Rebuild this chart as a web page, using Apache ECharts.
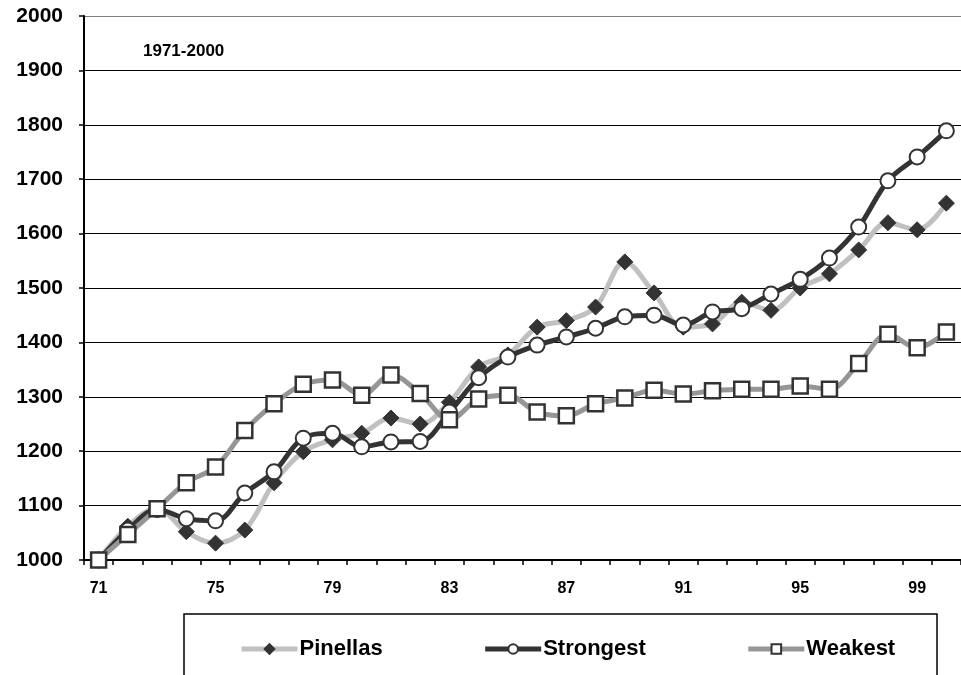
<!DOCTYPE html>
<html>
<head>
<meta charset="utf-8">
<script src="https://cdn.jsdelivr.net/npm/echarts@6/dist/echarts.min.js"></script>
<style>
  html, body { margin: 0; padding: 0; background: #fff; }
  #chart { width: 961px; height: 675px; }
</style>
</head>
<body>
<div id="chart"></div>
<script>
// 年份 (71 .. 00)
const years = ['71','72','73','74','75','76','77','78','79','80',
  '81','82','83','84','85','86','87','88','89','90',
  '91','92','93','94','95','96','97','98','99','00'];

const pinellas = [1000, 1062, 1095, 1052, 1031, 1055, 1142, 1199, 1221, 1233,
  1261, 1250, 1290, 1355, 1377, 1428, 1440, 1465, 1548, 1491,
  1428, 1434, 1474, 1459, 1500, 1526, 1570, 1620, 1607, 1656];

const strongest = [1000, 1055, 1093, 1076, 1072, 1123, 1162, 1224, 1233, 1208,
  1217, 1218, 1272, 1335, 1373, 1395, 1410, 1426, 1447, 1450,
  1432, 1456, 1462, 1489, 1516, 1555, 1612, 1697, 1741, 1789];

const weakest = [1000, 1047, 1094, 1142, 1171, 1238, 1287, 1323, 1331, 1303,
  1340, 1306, 1258, 1296, 1303, 1272, 1265, 1287, 1298, 1312,
  1305, 1311, 1314, 1314, 1320, 1314, 1361, 1415, 1390, 1419];

const font = '"Liberation Sans", Arial, sans-serif';

const chart = echarts.init(document.getElementById('chart'));

// 网格线颜色：最上面那条是灰色
const gridColors = ['#000','#000','#000','#000','#000','#000','#000','#000','#000','#000','#808080'];

chart.setOption({
  animation: false,
  backgroundColor: '#fff',
  grid: { left: 84, right: -14, top: 16, bottom: 115 },
  xAxis: {
    type: 'category',
    data: years,
    boundaryGap: true,
    axisLine: { lineStyle: { color: '#000', width: 2 } },
    axisTick: { show: true, interval: 0, length: 5, lineStyle: { color: '#000', width: 1.5 } },
    axisLabel: {
      interval: 3,
      color: '#000',
      fontFamily: font,
      fontWeight: 'bold',
      fontSize: 16,
      margin: 21
    },
    splitLine: { show: false }
  },
  yAxis: {
    type: 'value',
    min: 1000,
    max: 2000,
    interval: 100,
    axisLine: { show: true, lineStyle: { color: '#000', width: 2 } },
    axisTick: { show: true, length: 5, lineStyle: { color: '#000', width: 1.5 } },
    axisLabel: {
      color: '#000',
      fontFamily: font,
      fontWeight: 'bold',
      fontSize: 21,
      margin: 21,
      formatter: (v) => String(v)
    },
    splitLine: { show: true, lineStyle: { color: gridColors, width: 1.2 } }
  },
  legend: {
    left: 234,
    top: 633,
    itemWidth: 56,
    itemHeight: 12,
    itemGap: 100,
    lineStyle: { width: 5 },
    textStyle: { color: '#000', fontFamily: font, fontWeight: 'bold', fontSize: 22, padding: [0, 0, 0, -3] },
    data: ['Pinellas', 'Strongest', 'Weakest']
  },
  graphic: [
    {
      type: 'rect',
      shape: { x: 184, y: 614, width: 753, height: 80 },
      style: { fill: 'none', stroke: '#000', lineWidth: 1.5 },
      silent: true
    },
    {
      type: 'text',
      left: 143,
      top: 43,
      style: { text: '1971-2000', fill: '#000', font: 'bold 17px ' + font }
    }
  ],
  series: [
    {
      name: 'Pinellas',
      type: 'line',
      data: pinellas,
      smooth: 0.35,
      symbol: 'diamond',
      symbolSize: 16,
      lineStyle: { color: '#c0c0c0', width: 5 },
      itemStyle: { color: '#333333', borderColor: '#333333', borderWidth: 1 }
    },
    {
      name: 'Strongest',
      type: 'line',
      data: strongest,
      smooth: 0.35,
      symbol: 'circle',
      symbolSize: 15,
      lineStyle: { color: '#333333', width: 5 },
      itemStyle: { color: '#ffffff', borderColor: '#333333', borderWidth: 2 }
    },
    {
      name: 'Weakest',
      type: 'line',
      data: weakest,
      smooth: 0.35,
      symbol: 'rect',
      symbolSize: 15,
      lineStyle: { color: '#969696', width: 5 },
      itemStyle: { color: '#ffffff', borderColor: '#333333', borderWidth: 2.5 }
    }
  ]
});
</script>
</body>
</html>
